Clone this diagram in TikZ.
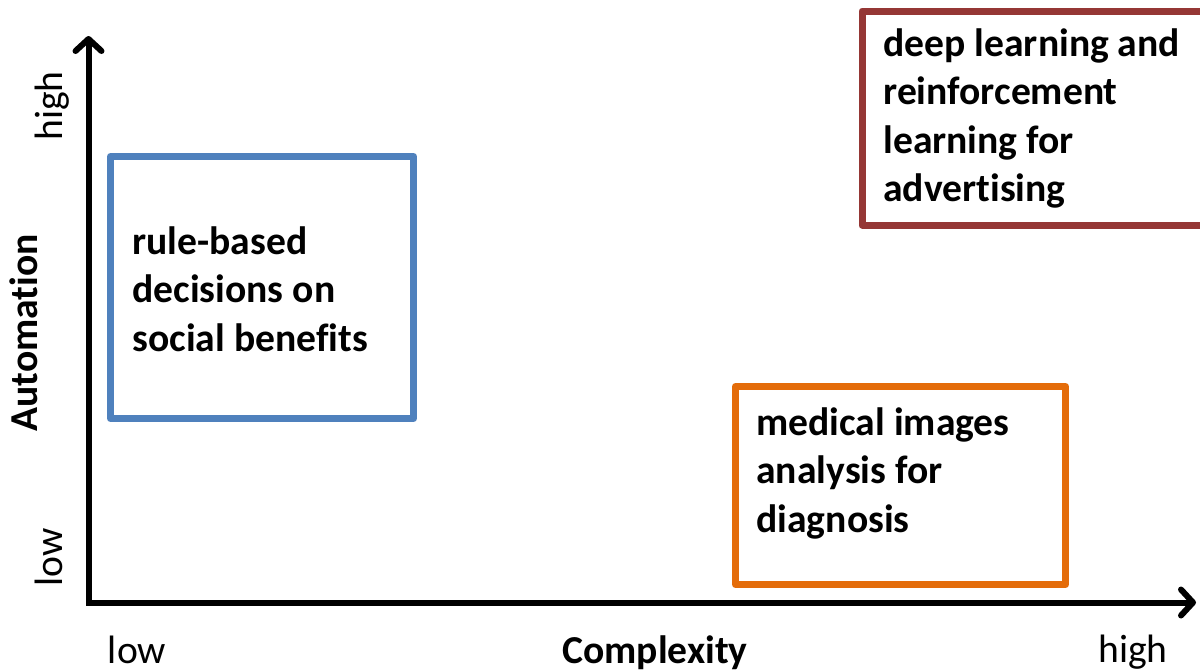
\documentclass[tikz,border=0pt]{standalone}
\usepackage{fontspec}
\setmainfont{Carlito}[RawFeature={-liga;-clig;-dlig;-calt}]
\usetikzlibrary{arrows.meta}
\definecolor{boxblue}{RGB}{79,129,189}
\definecolor{boxorange}{RGB}{228,108,10}
\definecolor{boxred}{RGB}{149,55,53}
\begin{document}
\begin{tikzpicture}[x=0.5pt,y=-0.5pt,
  barb/.tip={Straight Barb[length=6pt,width=13pt,line cap=round,line join=round]},
  axis/.style={line width=3pt,{barb}-{barb}},
  frame/.style={draw,line width=3.5pt,line join=round,inner sep=0pt},
  boxtext/.style={font=\fontsize{19.8}{24.3}\selectfont\bfseries,align=left,inner sep=0pt,anchor=north west},
  lab/.style={font=\fontsize{19.8}{24.3}\selectfont,inner sep=0pt,anchor=base},
  blab/.style={lab,font=\fontsize{19.8}{24.3}\selectfont\bfseries}]
\useasboundingbox (0,0) rectangle (1200,671);
\clip (0,0) rectangle (1200,671);
% axes
\coordinate (origin) at (88.5,602.5);
\coordinate (ytip) at (88.5,36);
\coordinate (xtip) at (1196,602.5);
\draw[axis] (ytip) -- (origin) -- (xtip);
% boxes
\node[frame,draw=boxblue,minimum width=151.5pt,minimum height=131pt] (blue) at (262,287.5) {};
\node[frame,draw=boxorange,minimum width=165pt,minimum height=99pt] (orange) at (900.5,485.5) {};
\node[frame,draw=boxred,minimum width=176pt,minimum height=107pt] (red) at (1038,118) {};
\node[boxtext] (bluetext) at (132,226) {rule-based\\decisions on\\social benefits};
\node[boxtext] (orangetext) at (756,407) {medical images\\analysis for\\diagnosis};
\node[boxtext] (redtext) at (883,28) {deep learning and\\reinforcement\\learning for\\advertising};
% axis labels
\node[lab,rotate=90] (yhigh) at (62,106) {high};
\node[lab,rotate=90] (ylow) at (62,557) {low};
\node[blab,rotate=90] (ylabel) at (38,333) {Automation};
\node[lab] (xlow) at (137,663) {low};
\node[blab] (xlabel) at (655,663) {Complexity};
\node[lab] (xhigh) at (1133,662) {high};
\end{tikzpicture}
\end{document}
